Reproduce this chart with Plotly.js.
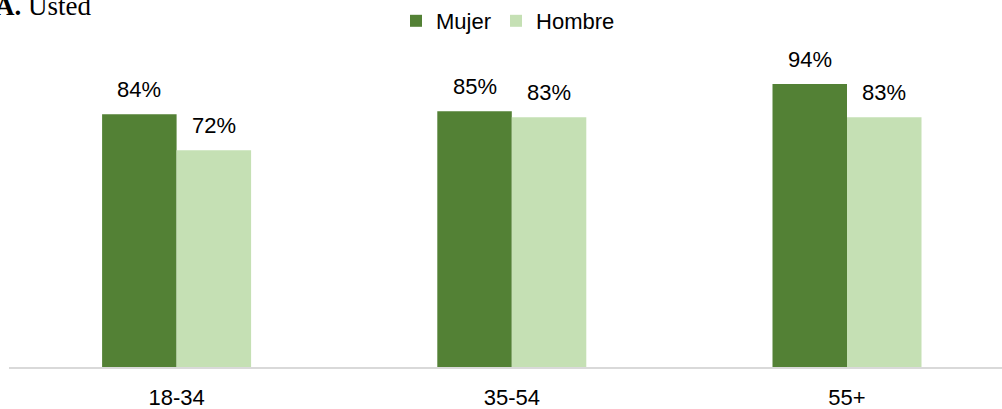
<!DOCTYPE html>
<html>
<head>
<meta charset="utf-8">
<script src="https://cdn.plot.ly/plotly-3.0.1.min.js"></script>
<style>html,body{margin:0;padding:0;background:#fff;}#chart{width:1002px;height:409px;}</style>
</head>
<body>
<div id="chart"></div>
<script>
const categories = ["18-34", "35-54", "55+"];
const mujer = [0.84, 0.85, 0.94];
const hombre = [0.72, 0.83, 0.83];
const seriesNames = ["Mujer", "Hombre"];
const titleText = "<b>A.</b> Usted";

const colors = ["#538135", "#C5E0B4"];
const W = 1002, H = 409;
const mL = 9, mR = 0, mT = 66, mB = 42;
const plotW = W - mL - mR, plotH = H - mT - mB;
const catPx = 335.2;
const xMax = -0.5 + plotW / catPx;
const barPx = 74.5;
const fontSans = "Liberation Sans, Arial, sans-serif";

const traces = [mujer, hombre].map((vals, i) => ({
  type: "bar",
  name: seriesNames[i],
  x: categories,
  y: vals,
  marker: {color: colors[i]},
  hoverinfo: "skip"
}));

const annotations = [];
[mujer, hombre].forEach((vals, i) => {
  vals.forEach((v, j) => {
    annotations.push({
      x: categories[j], y: v, xref: "x", yref: "y",
      text: Math.round(v * 100) + "%",
      showarrow: false,
      xanchor: "center", yanchor: "bottom",
      xshift: (i === 0 ? -1 : 1) * barPx / 2,
      yshift: 10,
      font: {family: fontSans, size: 22, color: "#000"}
    });
  });
});
annotations.push({
  xref: "paper", yref: "paper",
  x: (-7 - mL) / plotW, y: (H - mB - 6) / plotH,
  xanchor: "left", yanchor: "middle",
  text: titleText, showarrow: false,
  font: {family: "Liberation Serif, Times New Roman, serif", size: 27, color: "#000"}
});

const layout = {
  width: W, height: H,
  margin: {l: mL, r: mR, t: mT, b: mB, pad: 0},
  paper_bgcolor: "#fff", plot_bgcolor: "#fff",
  barmode: "group",
  bargap: 1 - 2 * barPx / catPx,
  bargroupgap: 0,
  showlegend: true,
  legend: {
    orientation: "h",
    x: (508 - mL) / plotW, xanchor: "center",
    y: (H - mB - 21) / plotH, yanchor: "middle",
    font: {family: fontSans, size: 22, color: "#000"},
    itemwidth: 30,
    traceorder: "normal",
    bgcolor: "rgba(0,0,0,0)"
  },
  xaxis: {
    type: "category",
    range: [-0.5, xMax],
    showgrid: false,
    zeroline: false,
    showline: true, linecolor: "#d9d9d9", linewidth: 1.5,
    ticks: "",
    tickfont: {family: fontSans, size: 22, color: "#000"},
    ticklabelstandoff: 10,
    fixedrange: true
  },
  yaxis: {
    range: [0, 1],
    visible: false,
    showgrid: false, zeroline: false,
    fixedrange: true
  },
  annotations: annotations
};

Plotly.newPlot("chart", traces, layout, {staticPlot: true, displayModeBar: false});
</script>
</body>
</html>
